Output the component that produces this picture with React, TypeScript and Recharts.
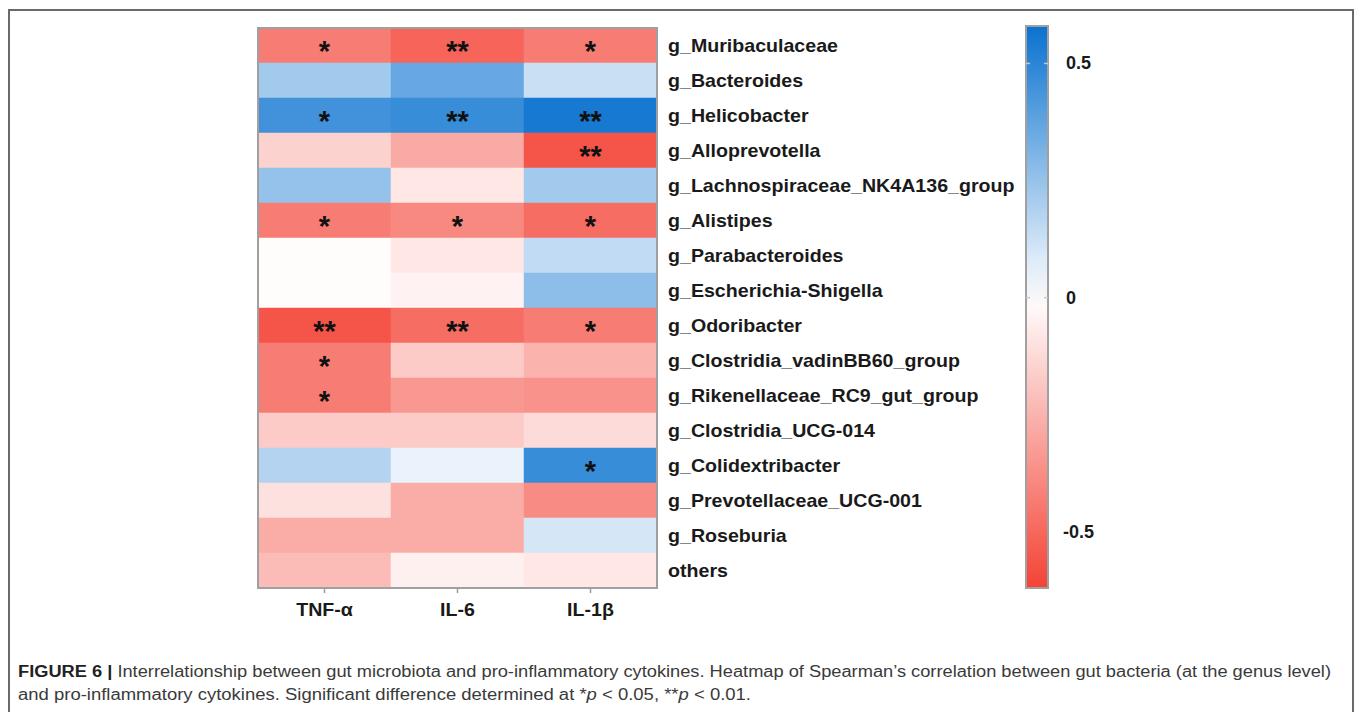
import React from 'react';
import { BarChart, Bar, XAxis, YAxis, Cell, LabelList } from 'recharts';

// rows, top to bottom
const genera = [
  'g_Muribaculaceae',
  'g_Bacteroides',
  'g_Helicobacter',
  'g_Alloprevotella',
  'g_Lachnospiraceae_NK4A136_group',
  'g_Alistipes',
  'g_Parabacteroides',
  'g_Escherichia-Shigella',
  'g_Odoribacter',
  'g_Clostridia_vadinBB60_group',
  'g_Rikenellaceae_RC9_gut_group',
  'g_Clostridia_UCG-014',
  'g_Colidextribacter',
  'g_Prevotellaceae_UCG-001',
  'g_Roseburia',
  'others',
];

const cytokines = ['TNF-α', 'IL-6', 'IL-1β'];

// Spearman r
const tnfValues = [-0.43, 0.22, 0.45, -0.15, 0.25, -0.43, -0.01, -0.01, -0.56, -0.43, -0.43, -0.17, 0.18, -0.1, -0.27, -0.22];
const il6Values = [-0.51, 0.36, 0.47, -0.28, -0.08, -0.39, -0.08, -0.04, -0.48, -0.17, -0.34, -0.17, 0.05, -0.27, -0.27, -0.05];
const il1bValues = [-0.43, 0.13, 0.55, -0.56, 0.22, -0.48, 0.15, 0.27, -0.43, -0.25, -0.36, -0.12, 0.47, -0.38, 0.1, -0.08];

const tnfSig = ['*', '', '*', '', '', '*', '', '', '**', '*', '*', '', '', '', '', ''];
const il6Sig = ['**', '', '**', '', '', '*', '', '', '**', '', '', '', '', '', '', ''];
const il1bSig = ['*', '', '**', '**', '', '*', '', '', '*', '', '', '', '*', '', '', ''];

const scaleTicks = [0.5, 0, -0.5];
const scaleMin = -0.62;
const scaleMax = 0.58;

const RED = [244, 67, 54];
const BLUE = [10, 114, 208];

function colorOf(v: number) {
  const t = v < 0 ? Math.min(1, v / scaleMin) : Math.min(1, v / scaleMax);
  const end = v < 0 ? RED : BLUE;
  const c = end.map((e) => Math.round(255 + (e - 255) * t));
  return `rgb(${c[0]},${c[1]},${c[2]})`;
}

const rows = genera.map((genus, i) => ({
  genus,
  tnf: tnfValues[i],
  il6: il6Values[i],
  il1b: il1bValues[i],
  tnfCell: 1,
  il6Cell: 1,
  il1bCell: 1,
  tnfSig: tnfSig[i],
  il6Sig: il6Sig[i],
  il1bSig: il1bSig[i],
}));

const series = [
  { key: 'tnf', cell: 'tnfCell', sig: 'tnfSig' },
  { key: 'il6', cell: 'il6Cell', sig: 'il6Sig' },
  { key: 'il1b', cell: 'il1bCell', sig: 'il1bSig' },
];

const FONT = '"Liberation Sans", Arial, Helvetica, sans-serif';

const StarLabel = (props: any) => {
  const { x, y, width, height, value } = props;
  if (!value) return null;
  return (
    <text
      x={x + width / 2}
      y={y + height / 2 + 15}
      textAnchor="middle"
      fontFamily={FONT}
      fontWeight="bold"
      fontSize={29}
      fill="#111"
    >
      {value}
    </text>
  );
};

const GenusTick = (props: any) => {
  const { x, y, payload } = props;
  return (
    <g transform={`translate(${x + 9},${y}) scale(1.09,1)`}>
      <text x={0} y={0} dy={6} textAnchor="start" fontFamily={FONT} fontWeight="bold" fontSize={18} fill="#1a1a1a">
        {payload.value}
      </text>
    </g>
  );
};

const CytokineTick = (props: any) => {
  const { x, y, payload } = props;
  return (
    <g transform={`translate(${x},${y}) scale(1.09,1)`}>
      <text x={0} y={0} dy={21} textAnchor="middle" fontFamily={FONT} fontWeight="bold" fontSize={18} fill="#1a1a1a">
        {cytokines[Math.floor(payload.value)]}
      </text>
    </g>
  );
};

// colour bar geometry
const barX = 1026;
const barTop = 26;
const barBottom = 588;
const barW = 22;
const scaleY = (v: number) => barTop + ((scaleMax - v) / (scaleMax - scaleMin)) * (barBottom - barTop);
const gradientStops = Array.from({ length: 13 }, (_, i) => scaleMax - (i / 12) * (scaleMax - scaleMin));

export default function App() {
  return (
    <div style={{ position: 'absolute', left: 0, top: 0, width: 1357, height: 712, overflow: 'hidden', background: '#fff' }}>
      <div
        style={{
          position: 'absolute',
          left: 8,
          top: 9,
          width: 1346,
          height: 760,
          border: '2px solid #6a6a6a',
          boxSizing: 'border-box',
        }}
      />
      <div style={{ position: 'absolute', left: 0, top: 0 }}>
        <BarChart
          width={1100}
          height={640}
          data={rows}
          layout="vertical"
          margin={{ top: 28, right: 63, bottom: 12, left: 258 }}
          barCategoryGap={0}
          barGap={0}
        >
          <XAxis
            type="number"
            domain={[0, 3]}
            ticks={[0.5, 1.5, 2.5]}
            interval={0}
            axisLine={false}
            tickLine={{ stroke: '#999', strokeWidth: 1.5 }}
            tickSize={5}
            height={40}
            tick={<CytokineTick />}
          />
          <YAxis
            type="category"
            dataKey="genus"
            orientation="right"
            width={380}
            interval={0}
            axisLine={false}
            tickLine={false}
            tickSize={0}
            tick={<GenusTick />}
          />
          {series.map((s) => (
            <Bar key={s.key} dataKey={s.cell} stackId="cells" isAnimationActive={false}>
              {rows.map((r: any, i) => (
                <Cell key={i} fill={colorOf(r[s.key])} stroke={colorOf(r[s.key])} strokeWidth={0.5} />
              ))}
              <LabelList dataKey={s.sig} content={<StarLabel />} />
            </Bar>
          ))}
        </BarChart>
      </div>
      <div
        style={{
          position: 'absolute',
          left: 257,
          top: 27,
          width: 401,
          height: 562,
          border: '2px solid #a0a0a0',
          boxSizing: 'border-box',
          pointerEvents: 'none',
        }}
      />
      <svg width={1357} height={712} style={{ position: 'absolute', left: 0, top: 0, pointerEvents: 'none' }}>
        <defs>
          <linearGradient id="scaleGrad" x1="0" y1="0" x2="0" y2="1">
            {gradientStops.map((v, i) => (
              <stop key={i} offset={`${(i / 12) * 100}%`} stopColor={colorOf(v)} />
            ))}
          </linearGradient>
        </defs>
        <rect x={barX} y={barTop} width={barW} height={barBottom - barTop} fill="url(#scaleGrad)" stroke="#a0a0a0" strokeWidth={2} />
        {scaleTicks.map((v) => (
          <g key={v}>
            {v !== -0.5 && (
              <>
                <line x1={barX} x2={barX + 4} y1={scaleY(v)} y2={scaleY(v)} stroke="#c8c8c8" strokeWidth={1.5} />
                <line x1={barX + barW - 4} x2={barX + barW} y1={scaleY(v)} y2={scaleY(v)} stroke="#c8c8c8" strokeWidth={1.5} />
              </>
            )}
            <text
              x={v < 0 ? 1063 : 1066}
              y={scaleY(v) + 6}
              fontFamily={FONT}
              fontWeight="bold"
              fontSize={18}
              fill="#1a1a1a"
            >
              {v === 0 ? '0' : String(v)}
            </text>
          </g>
        ))}
        <text x={18} y={677} fontFamily={FONT} fontSize={16} fill="#3a3a3a" textLength={1313} lengthAdjust="spacingAndGlyphs">
          <tspan fontWeight="bold" fill="#222">FIGURE 6 |</tspan>
          <tspan> Interrelationship between gut microbiota and pro-inflammatory cytokines. Heatmap of Spearman’s correlation between gut bacteria (at the genus level)</tspan>
        </text>
        <text x={18} y={700} fontFamily={FONT} fontSize={16} fill="#3a3a3a" textLength={733} lengthAdjust="spacingAndGlyphs">
          and pro-inflammatory cytokines. Significant difference determined at *<tspan fontStyle="italic">p</tspan> {'<'} 0.05, **<tspan fontStyle="italic">p</tspan> {'<'} 0.01.
        </text>
      </svg>
    </div>
  );
}
